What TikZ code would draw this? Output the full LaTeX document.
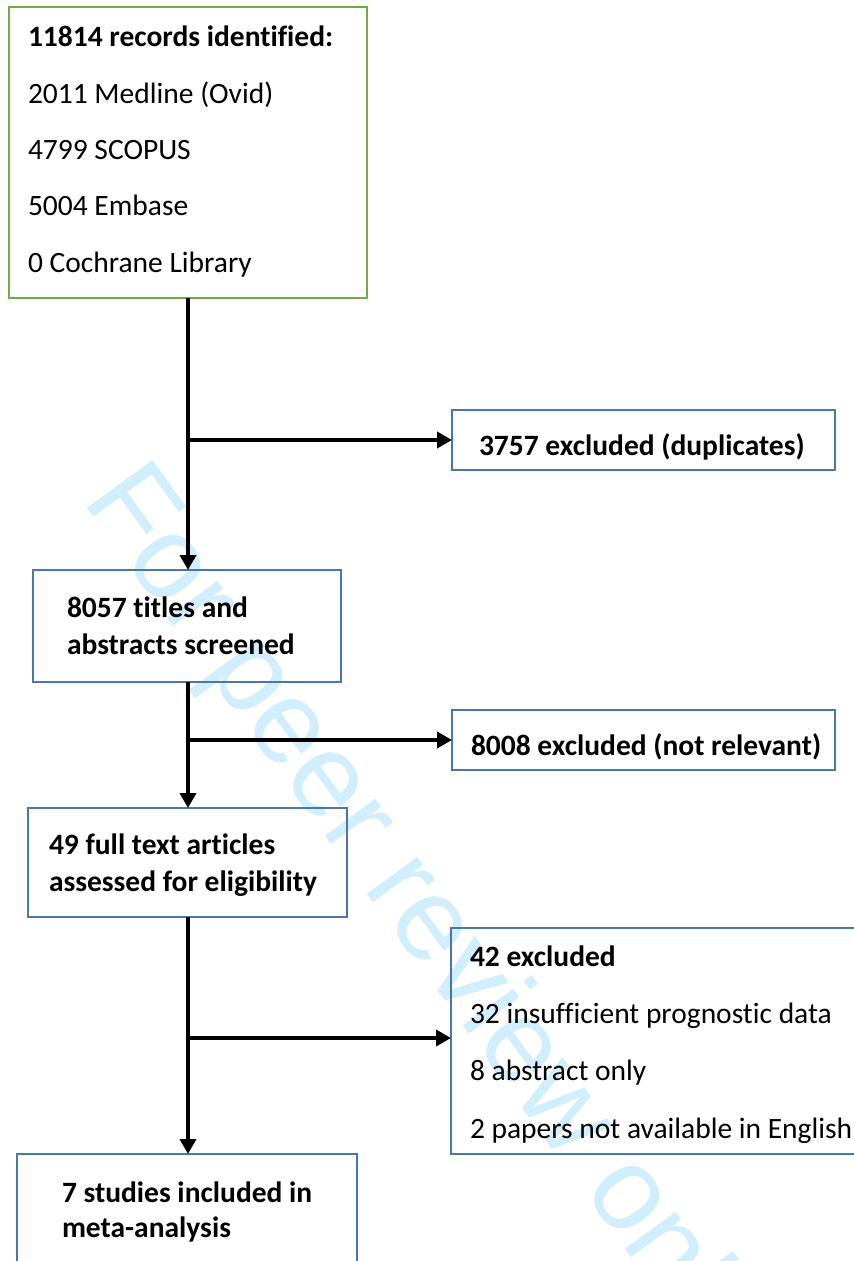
\documentclass[tikz,border=0pt]{standalone}
\usepackage{fontspec}
\setmainfont{Carlito}[Ligatures={NoCommon,NoContextual}]
\newfontfamily\wmfont{Liberation Sans}
\usetikzlibrary{arrows.meta}
\definecolor{boxblue}{RGB}{74,118,168}
\definecolor{boxgreen}{RGB}{112,173,71}
\definecolor{wmcyan}{RGB}{208,238,252}
\tikzset{
  box/.style={draw=boxblue, line width=2pt, inner sep=0pt, outer sep=0pt},
  greenbox/.style={draw=boxgreen, line width=2pt, inner sep=0pt, outer sep=0pt},
  txt/.style={anchor=base west, inner sep=0pt, outer sep=0pt, font=\fontsize{29.5}{36}\selectfont},
  btxt/.style={txt, font=\fontsize{29.5}{36}\selectfont\bfseries},
  arr/.style={line width=4pt, -{Triangle[length=15pt,width=16pt]}},
  wmark/.style={anchor=base west, inner sep=0pt, text=wmcyan, font=\fontsize{118}{120}\selectfont\wmfont}
}
\begin{document}
\begin{tikzpicture}[x=1pt,y=-1pt]
\useasboundingbox (0,0) rectangle (854,1261);
\clip (0,0) rectangle (854,1261);
\fill[white] (0,0) rectangle (854,1261);
% watermark
\node[wmark, rotate=-54] (wm) at (81,500) {For peer review only};
% boxes
\node[greenbox, minimum width=358pt, minimum height=291pt] (b1) at (188,152.5) {};
\node[box, minimum width=383pt, minimum height=60pt] (bx1) at (643.5,440) {};
\node[box, minimum width=308pt, minimum height=112pt] (b2) at (187,626) {};
\node[box, minimum width=383pt, minimum height=60pt] (bx2) at (643.5,740) {};
\node[box, minimum width=319pt, minimum height=109pt] (b3) at (187.5,862.5) {};
\node[box, minimum width=419pt, minimum height=226pt] (bx3) at (660.5,1041) {};
\node[box, minimum width=340pt, minimum height=160pt] (b4) at (187,1234) {};
% texts
\node[btxt] (t11) at (28,46) {11814 records identified:};
\node[txt] (t12) at (28,103) {2011 Medline (Ovid)};
\node[txt] (t13) at (28,159) {4799 SCOPUS};
\node[txt] (t14) at (28,215) {5004 Embase};
\node[txt] (t15) at (28,272) {0 Cochrane Library};
\node[btxt] (tx1) at (479,455) {3757 excluded (duplicates)};
\node[btxt] (t21) at (67,617) {8057 titles and};
\node[btxt] (t22) at (67,654) {abstracts screened};
\node[btxt] (tx2) at (471,755) {8008 excluded (not relevant)};
\node[btxt] (t31) at (49,854) {49 full text articles};
\node[btxt] (t32) at (49,891) {assessed for eligibility};
\node[btxt] (tx31) at (470,966) {42 excluded};
\node[txt] (tx32) at (470,1023) {32 insufficient prognostic data};
\node[txt] (tx33) at (470,1080) {8 abstract only};
\node[txt] (tx34) at (470,1138) {2 papers not available in English};
\node[btxt] (t41) at (62,1202) {7 studies included in};
\node[btxt] (t42) at (62,1237) {meta-analysis};
% connectors
\coordinate (spine) at (188,0);
\draw[arr] (b1.south -| spine) -- (b2.north -| spine);
\draw[arr] (b2.south -| spine) -- (b3.north -| spine);
\draw[arr] (b3.south -| spine) -- (b4.north -| spine);
\draw[arr] (bx1.west -| spine) -- (bx1.west);
\draw[arr] (bx2.west -| spine) -- (bx2.west);
\coordinate (j3) at (188,1038);
\draw[arr] (j3) -- (j3 -| bx3.west);
\end{tikzpicture}
\end{document}
